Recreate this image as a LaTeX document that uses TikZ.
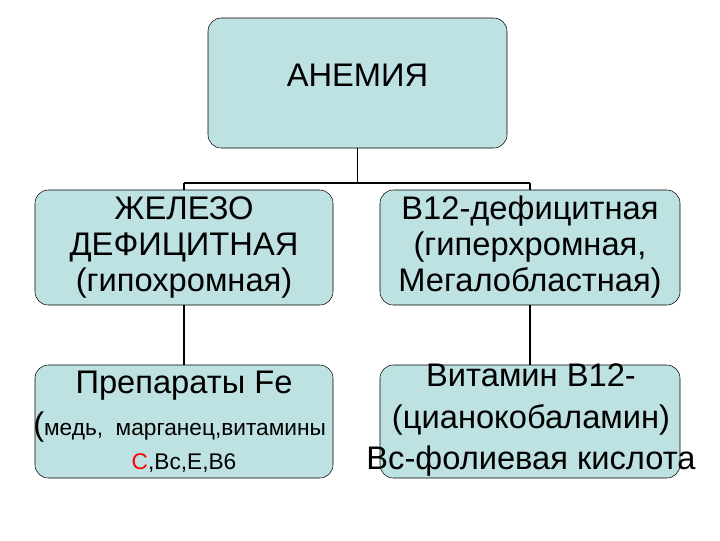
\documentclass[tikz,border=0pt]{standalone}
\usepackage{fontspec}
\setmainfont{Liberation Sans}
\begin{document}
\begin{tikzpicture}[x=0.75pt,y=-0.75pt,
  box/.style={draw=black,fill={rgb,255:red,190;green,225;blue,225},rounded corners=10pt,inner sep=0pt},
  txt/.style={align=center,font=\fontsize{24.5}{27}\selectfont},
  line/.style={draw=black,line width=0.8pt}]
\useasboundingbox (0,0) rectangle (720,540);
\node[box,minimum width=299*0.75pt,minimum height=130*0.75pt] (top) at (357.5,83) {};
\node[txt] at (357.5,75) {АНЕМИЯ};
\node[box,minimum width=298*0.75pt,minimum height=115*0.75pt] (l1) at (184,247.5) {};
\node[box,minimum width=300*0.75pt,minimum height=115*0.75pt] (r1) at (530,247.5) {};
\node[box,minimum width=298*0.75pt,minimum height=113*0.75pt] (l2) at (184,421.5) {};
\node[box,minimum width=300*0.75pt,minimum height=113*0.75pt] (r2) at (530,421.5) {};
\node[txt] at (184,247) {ЖЕЛЕЗО\\ДЕФИЦИТНАЯ\\(гипохромная)};
\node[txt] at (530,247) {В12-дефицитная\\(гиперхромная,\\Мегалобластная)};
\node[txt,font=\fontsize{24.5}{31}\selectfont] at (531,420) {Витамин В12-\\(цианокобаламин)\\Вс-фолиевая кислота};
\node[txt] at (184,386) {Препараты Fe};
\node[anchor=west,inner sep=0pt] at (33,427) {\fontsize{24.5}{26}\selectfont(\fontsize{17}{20}\selectfont медь, \ марганец,витамины};
\node[font=\fontsize{17}{20}\selectfont,inner sep=0pt] at (184,463) {\textcolor{red}{C},Вс,Е,В6};
\coordinate (j) at (357.5,183);
\coordinate (jl) at (184,183);
\coordinate (jr) at (530,183);
\draw[line] (top.south) -- (j);
\draw[line] (jl) -- (jr);
\draw[line] (jl) -- (l1.north);
\draw[line] (jr) -- (r1.north);
\draw[line] (l1.south) -- (l2.north);
\draw[line] (r1.south) -- (r2.north);
\end{tikzpicture}
\end{document}
